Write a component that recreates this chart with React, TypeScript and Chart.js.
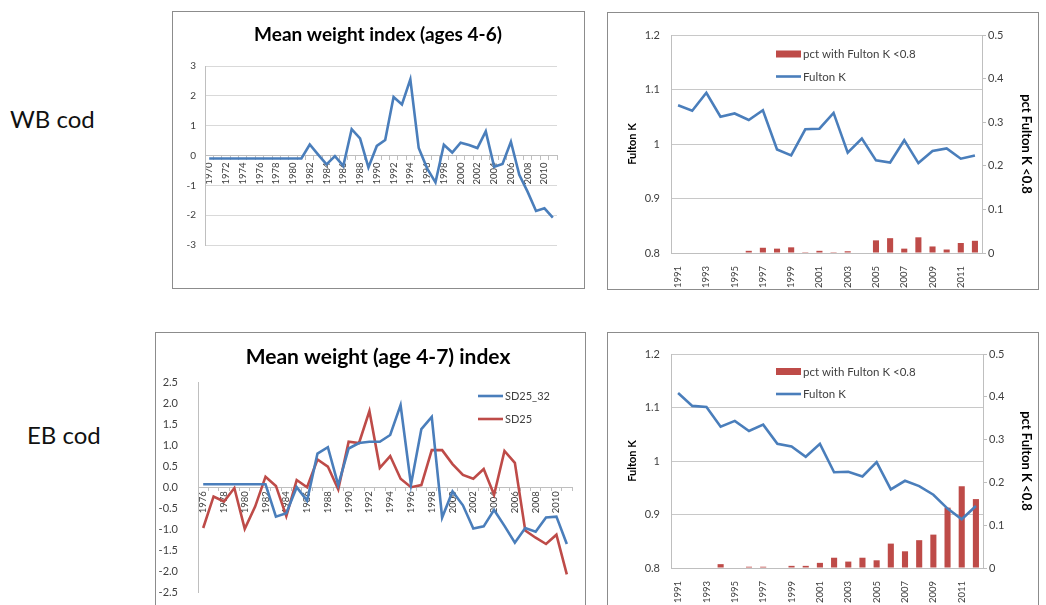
import React, { useEffect, useRef } from 'react';
import { Chart, registerables } from 'chart.js';

Chart.register(...registerables);

const FONT = 'Lato, "Liberation Sans", Arial, sans-serif';
Chart.defaults.font.family = FONT;

const BLUE = '#4a7ebb';
const RED = '#be4b48';
const TXT = '#404040';
const GRID = '#c8c8c8';
const AXIS = '#bfbfbf';
const LW = 2.6;

// ---------- WB cod: mean weight index (ages 4-6) ----------
const wbIndexYears = [
  '1970', '1971', '1972', '1973', '1974', '1975', '1976', '1977', '1978', '1979',
  '1980', '1981', '1982', '1983', '1984', '1985', '1986', '1987', '1988', '1989',
  '1990', '1991', '1992', '1993', '1994', '1995', '1996', '1997', '1998', '1999',
  '2000', '2001', '2002', '2003', '2004', '2005', '2006', '2007', '2008', '2009',
  '2010', '2011',
];
const wbIndex = [
  -0.1, -0.1, -0.1, -0.1, -0.1, -0.1, -0.1, -0.1, -0.1, -0.1,
  -0.1, -0.1, 0.37, 0.03, -0.3, -0.02, -0.35, 0.88, 0.57, -0.4,
  0.32, 0.52, 1.96, 1.71, 2.55, 0.25, -0.43, -0.9, 0.36, 0.1,
  0.43, 0.35, 0.25, 0.81, -0.38, -0.28, 0.46, -0.65, -1.22, -1.86,
  -1.77, -2.08,
];

// ---------- EB cod: mean weight (age 4-7) index ----------
const ebIndexYears = [
  '1976', '1977', '1978', '1979', '1980', '1981', '1982', '1983', '1984', '1985',
  '1986', '1987', '1988', '1989', '1990', '1991', '1992', '1993', '1994', '1995',
  '1996', '1997', '1998', '1999', '2000', '2001', '2002', '2003', '2004', '2005',
  '2006', '2007', '2008', '2009', '2010', '2011',
];
const ebSD25_32 = [
  0.07, 0.07, 0.07, 0.07, 0.07, 0.07, 0.07, -0.7, -0.62, 0.0,
  -0.32, 0.8, 0.95, 0.05, 0.92, 1.05, 1.08, 1.08, 1.24, 1.95,
  0.06, 1.38, 1.67, -0.72, -0.1, -0.43, -0.98, -0.93, -0.54, -0.92,
  -1.32, -0.97, -1.06, -0.72, -0.7, -1.35,
];
const ebSD25 = [
  -0.97, -0.22, -0.34, -0.02, -0.99, -0.46, 0.25, 0.03, -0.69, 0.17,
  0.0, 0.66, 0.49, -0.05, 1.08, 1.05, 1.81, 0.46, 0.74, 0.2,
  0.0, 0.05, 0.88, 0.88, 0.55, 0.29, 0.2, 0.43, -0.18, 0.86,
  0.58, -1.03, -1.2, -1.35, -1.13, -2.07,
];

// ---------- Fulton K charts ----------
const fultonYears = [
  '1991', '1992', '1993', '1994', '1995', '1996', '1997', '1998', '1999', '2000',
  '2001', '2002', '2003', '2004', '2005', '2006', '2007', '2008', '2009', '2010',
  '2011', '2012',
];
const wbFulton = [
  1.071, 1.061, 1.094, 1.05, 1.056, 1.044, 1.062, 0.99, 0.979, 1.027,
  1.028, 1.057, 0.984, 1.01, 0.97, 0.966, 1.007, 0.965, 0.987, 0.992,
  0.973, 0.979,
];
const wbPct = [
  0, 0, 0, 0, 0, 0.005, 0.012, 0.01, 0.013, 0.002,
  0.005, 0.002, 0.004, 0, 0.029, 0.034, 0.01, 0.036, 0.015, 0.008,
  0.023, 0.028,
];
const ebFulton = [
  1.127, 1.103, 1.101, 1.064, 1.075, 1.056, 1.068, 1.032, 1.027, 1.008,
  1.032, 0.979, 0.98, 0.971, 0.998, 0.947, 0.963, 0.953, 0.937, 0.911,
  0.891, 0.916,
];
const ebPct = [
  0, 0, 0, 0.009, 0, 0.003, 0.003, 0, 0.005, 0.005,
  0.012, 0.024, 0.015, 0.024, 0.018, 0.057, 0.039, 0.065, 0.078, 0.141,
  0.191, 0.161,
];

const fultonTicks = [1.2, 1.1, 1, 0.9, 0.8];
const pctTicks = [0.5, 0.4, 0.3, 0.2, 0.1, 0];

const LBL_FULTON = 'Fulton K';
const LBL_PCT = 'pct with Fulton K <0.8';
const LBL_PCT_AXIS = 'pct Fulton K <0.8';

// Overlay plugin: titles and in-plot legends
const overlayPlugin = {
  id: 'overlay',
  afterDraw(chart: any, _args: any, opts: any) {
    const ctx = chart.ctx;
    ctx.save();
    (opts.texts || []).forEach((t: any) => {
      ctx.font = t.font;
      ctx.fillStyle = t.color || '#000';
      ctx.textAlign = 'center';
      ctx.textBaseline = 'middle';
      ctx.fillText(t.text, t.x, t.y);
    });
    const lg = opts.legend;
    if (lg) {
      lg.items.forEach((it: any, i: number) => {
        const ds = chart.data.datasets[it];
        const y = lg.y + i * lg.gap;
        const isLine = (ds.type || chart.config.type) === 'line';
        if (isLine) {
          ctx.strokeStyle = ds.borderColor;
          ctx.lineWidth = LW;
          ctx.beginPath();
          ctx.moveTo(lg.x, y);
          ctx.lineTo(lg.x + lg.w, y);
          ctx.stroke();
        } else {
          ctx.fillStyle = ds.backgroundColor;
          ctx.fillRect(lg.x, y - 3.5, lg.w, 7);
        }
        ctx.font = lg.font;
        ctx.fillStyle = TXT;
        ctx.textAlign = 'left';
        ctx.textBaseline = 'middle';
        ctx.fillText(ds.label, lg.x + lg.w + 2, y + 0.5);
      });
    }
    ctx.restore();
  },
};

const fixW = (w: number) => (s: any) => { s.width = w; };
const fixH = (h: number) => (s: any) => { s.height = h; };
const everyOther = function (this: any, _v: any, i: number) {
  return i % 2 === 0 ? this.getLabelForValue(i) : '';
};

function indexWB(): any {
  return {
    type: 'line',
    data: {
      labels: wbIndexYears,
      datasets: [
        { label: 'WB', data: wbIndex, borderColor: BLUE, borderWidth: LW, pointRadius: 0, tension: 0 },
      ],
    },
    options: {
      responsive: false,
      animation: false,
      layout: { padding: { left: 0, top: 54, right: 27, bottom: 43 } },
      plugins: {
        legend: { display: false },
        tooltip: { enabled: false },
        overlay: {
          texts: [{ text: 'Mean weight index (ages 4-6)', x: 205, y: 23, font: `bold 19px ${FONT}`, color: '#000' }],
        },
      },
      scales: {
        x: {
          position: { y: 0 },
          offset: true,
          grid: { drawOnChartArea: false, drawTicks: true, tickLength: 4, color: AXIS, offset: true },
          border: { color: AXIS },
          ticks: {
            autoSkip: false, maxRotation: 90, minRotation: 90, padding: 3,
            color: TXT, font: { size: 9.5 }, callback: everyOther,
          },
        },
        y: {
          min: -3, max: 3,
          afterFit: fixW(32),
          grid: { color: '#d9d9d9', drawTicks: false },
          border: { color: AXIS },
          ticks: { stepSize: 1, padding: 9, color: TXT, font: { size: 10 } },
        },
      },
    },
    plugins: [overlayPlugin],
  };
}

function indexEB(): any {
  return {
    type: 'line',
    data: {
      labels: ebIndexYears,
      datasets: [
        { label: 'SD25_32', data: ebSD25_32, borderColor: BLUE, borderWidth: LW, pointRadius: 0, tension: 0 },
        { label: 'SD25', data: ebSD25, borderColor: RED, borderWidth: LW, pointRadius: 0, tension: 0 },
      ],
    },
    options: {
      responsive: false,
      animation: false,
      layout: { padding: { left: 0, top: 49, right: 13, bottom: 12 } },
      plugins: {
        legend: { display: false },
        tooltip: { enabled: false },
        overlay: {
          texts: [{ text: 'Mean weight (age 4-7) index', x: 222, y: 24, font: `bold 21px ${FONT}`, color: '#000' }],
          legend: { items: [0, 1], x: 322, y: 63, gap: 23, w: 25, font: `11px ${FONT}` },
        },
      },
      scales: {
        x: {
          position: { y: 0 },
          offset: true,
          grid: { drawOnChartArea: false, drawTicks: true, tickLength: 3, color: AXIS, offset: true },
          border: { color: AXIS },
          ticks: {
            autoSkip: false, maxRotation: 90, minRotation: 90, padding: 1,
            color: TXT, font: { size: 9.5 }, callback: everyOther,
          },
        },
        y: {
          min: -2.5, max: 2.5,
          afterFit: fixW(42),
          grid: { display: false },
          border: { color: AXIS },
          ticks: {
            stepSize: 0.5, padding: 12, color: TXT, font: { size: 11 },
            callback: (v: number) => v.toFixed(1),
          },
        },
      },
    },
    plugins: [overlayPlugin],
  };
}

function fulton(line: number[], bars: number[], padTop: number, xH: number, legendY: number, y1W: number): any {
  const fmt = (v: number) => String(Math.round(v * 100) / 100);
  return {
    type: 'bar',
    data: {
      labels: fultonYears,
      datasets: [
        {
          type: 'line', label: LBL_FULTON, data: line, yAxisID: 'y', borderColor: BLUE,
          borderWidth: LW, pointRadius: 0, tension: 0, order: 0,
        },
        {
          type: 'bar', label: LBL_PCT, data: bars, yAxisID: 'y1', backgroundColor: RED,
          barPercentage: 0.43, categoryPercentage: 1, order: 1,
        },
      ],
    },
    options: {
      responsive: false,
      animation: false,
      layout: { padding: { left: 0, top: padTop, right: 0, bottom: 0 } },
      plugins: {
        legend: { display: false },
        tooltip: { enabled: false },
        overlay: {
          legend: { items: [1, 0], x: 168, y: legendY, gap: 22.5, w: 25, font: `11.5px ${FONT}` },
        },
      },
      scales: {
        x: {
          afterFit: fixH(xH),
          grid: { display: false },
          border: { color: AXIS },
          ticks: {
            autoSkip: false, maxRotation: 90, minRotation: 90, padding: 5,
            color: TXT, font: { size: 9.5 }, callback: everyOther,
          },
        },
        y: {
          position: 'left',
          min: 0.8, max: 1.2,
          afterFit: fixW(63),
          afterBuildTicks: (s: any) => { s.ticks = fultonTicks.map((v) => ({ value: v })); },
          grid: { color: GRID, drawTicks: false },
          border: { color: AXIS },
          ticks: { padding: 11, color: TXT, font: { size: 11 }, callback: fmt },
          title: {
            display: true, text: LBL_FULTON, color: '#000',
            font: { size: 11, weight: 'bold' }, padding: { top: 18, bottom: 0 },
          },
        },
        y1: {
          position: 'right',
          min: 0, max: 0.5,
          afterFit: fixW(y1W),
          afterBuildTicks: (s: any) => { s.ticks = pctTicks.map((v) => ({ value: v })); },
          grid: { drawOnChartArea: false, drawTicks: true, tickLength: 4, color: AXIS },
          border: { color: AXIS },
          ticks: { padding: 2, color: TXT, font: { size: 11 }, callback: fmt },
          title: {
            display: true, text: LBL_PCT_AXIS, color: '#000',
            font: { size: 13, weight: 'bold' }, padding: { top: 4, bottom: 0 },
          },
        },
      },
    },
    plugins: [overlayPlugin],
  };
}

function ChartBox(props: { left: number; top: number; width: number; height: number; frameH: number; make: () => any }) {
  const ref = useRef<HTMLCanvasElement>(null);
  useEffect(() => {
    const chart = new Chart(ref.current as HTMLCanvasElement, props.make());
    return () => chart.destroy();
  }, []);
  return (
    <div
      style={{
        position: 'absolute', left: props.left, top: props.top, width: props.width, height: props.frameH,
        border: '1px solid #8c8c8c', background: '#fff', overflow: 'hidden',
      }}
    >
      <canvas ref={ref} width={props.width} height={props.height} style={{ display: 'block', width: props.width, height: props.height }} />
    </div>
  );
}

export default function App() {
  const label = (text: string, left: number, top: number) => (
    <div style={{ position: 'absolute', left, top, font: `24px ${FONT}`, color: '#111', whiteSpace: 'nowrap', lineHeight: '30px' }}>
      {text}
    </div>
  );
  return (
    <div style={{ position: 'fixed', left: 0, top: 0, width: 1046, height: 605, overflow: 'hidden', background: '#fff', fontFamily: FONT }}>
      {label('WB cod', 10, 104)}
      {label('EB cod', 27, 420)}
      <ChartBox left={172} top={11} width={411} height={276} frameH={276} make={indexWB} />
      <ChartBox left={607} top={12} width={430} height={276} frameH={276} make={() => fulton(wbFulton, wbPct, 22, 36, 41, 56)} />
      <ChartBox left={155} top={332} width={429} height={278} frameH={290} make={indexEB} />
      <ChartBox left={607} top={332} width={430} height={272} frameH={290} make={() => fulton(ebFulton, ebPct, 21, 37, 38.5, 55)} />
    </div>
  );
}
